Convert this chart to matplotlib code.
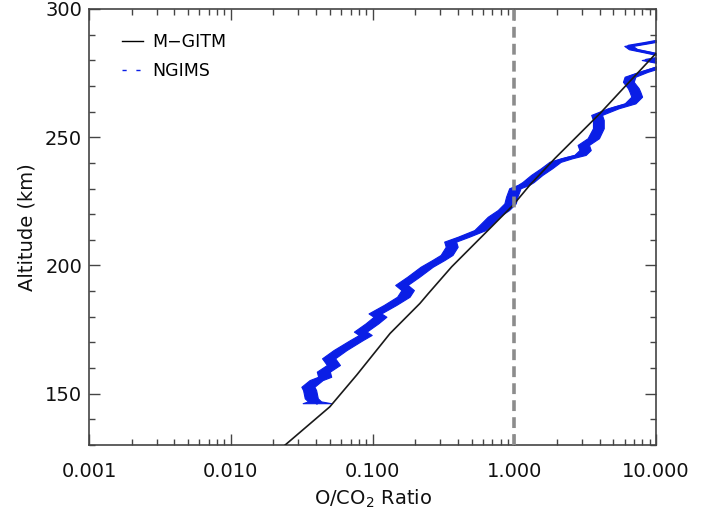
import matplotlib
matplotlib.use("Agg")
import matplotlib.pyplot as plt
import numpy as np
from matplotlib.lines import Line2D
from matplotlib.ticker import FixedLocator, FuncFormatter, LogLocator, MultipleLocator

plt.rcParams['font.family'] = ['DejaVu Sans']

# M-GITM model profile
mgitm_ratio = [0.0242, 0.050, 0.0774, 0.133, 0.216, 0.248, 0.362, 0.675, 0.984,
               1.29, 1.94, 4.03, 5.73, 10.0, 11.5]
mgitm_alt = [130, 144.9, 157.3, 173.5, 185.2, 189.1, 199.5, 214.5, 223.6,
             231.4, 241.8, 259.3, 268.4, 282.7, 285.5]

# NGIMS observed profile (center ratio, altitude, half-width of error in decades)
ngims_alt = [146.3, 147.0, 148.2, 151.4, 152.7, 155.3, 156.6, 158.6, 161.2, 163.8,
             167.0, 170.9, 172.9, 174.2, 177.4, 180.0, 181.3, 184.6, 187.8, 190.4,
             192.4, 195.6, 199.5, 202.1, 204.1, 207.3, 209.3, 211.2, 213.8, 216.4,
             219.0, 221.6, 224.2, 226.8, 230.1, 231.4, 232.5, 235.3, 237.9, 240.4,
             241.8, 243.1, 245.0, 247.0, 249.6, 253.5, 256.7, 258.7, 261.3, 263.2,
             265.8, 267.7, 269.1, 271.6, 273.6, 275.5, 276.5, 278.5, 280.1, 281.5,
             283.0, 284.3, 285.6, 286.6, 287.6, 289.0]
ngims_ratio = [0.0405, 0.039, 0.037, 0.036, 0.035, 0.040, 0.046, 0.045, 0.053, 0.049,
               0.059, 0.077, 0.089, 0.082, 0.099, 0.113, 0.104, 0.133, 0.165, 0.177,
               0.160, 0.194, 0.241, 0.291, 0.333, 0.362, 0.353, 0.438, 0.573, 0.64,
               0.713, 0.838, 0.934, 0.96, 1.01, 1.16, 1.25, 1.44, 1.69, 1.94,
               2.34, 2.91, 3.16, 3.07, 3.61, 3.92, 3.92, 3.81, 5.0, 6.56,
               7.31, 7.1, 6.92, 6.38, 6.56, 8.15, 9.33, 12.0, 8.5, 12.0,
               9.0, 6.9, 6.4, 8.2, 10.3, 13.0]
ngims_err = [0.100, 0.046, 0.046, 0.046, 0.046, 0.046, 0.046, 0.046, 0.046, 0.046,
             0.046, 0.045, 0.045, 0.045, 0.045, 0.045, 0.045, 0.044, 0.044, 0.044,
             0.044, 0.043, 0.043, 0.043, 0.042, 0.042, 0.042, 0.040, 0.040, 0.040,
             0.040, 0.040, 0.040, 0.040, 0.040, 0.040, 0.040, 0.040, 0.040, 0.040,
             0.040, 0.040, 0.040, 0.040, 0.040, 0.038, 0.038, 0.038, 0.038, 0.038,
             0.038, 0.038, 0.038, 0.038, 0.038, 0.030, 0.030, 0.030, 0.030, 0.030,
             0.030, 0.030, 0.030, 0.030, 0.030, 0.030]

x_ticks = [0.001, 0.01, 0.1, 1.0, 10.0]
y_ticks = [150, 200, 250, 300]

fig = plt.figure(figsize=(7.04, 5.12), dpi=100)
ax = fig.add_axes([89/704, 1 - 445/512, (656-89)/704, (445-9)/512])

blue = '#0a1ee6'
nr = np.array(ngims_ratio)
ne = np.array(ngims_err)
ax.fill_betweenx(ngims_alt, nr * 10**(-ne), nr * 10**(ne), color=blue, lw=0.8,
                 edgecolor=blue, zorder=2)
ax.plot(ngims_ratio, ngims_alt, color=blue, lw=1.8, zorder=2)
ax.plot(mgitm_ratio, mgitm_alt, color='#1a1a1a', lw=1.2, zorder=3)
ax.axvline(1.0, color='#8c8c8c', lw=2.6, dashes=(3.0, 1.7), zorder=4)

ax.set_xscale('log')
ax.set_xlim(0.001, 10.0)
ax.set_ylim(130, 300)
ax.xaxis.set_major_locator(FixedLocator(x_ticks))
ax.xaxis.set_minor_locator(LogLocator(base=10, subs=np.arange(2, 10)))
ax.xaxis.set_major_formatter(FuncFormatter(lambda v, p: f"{v:.3f}"))
ax.xaxis.set_minor_formatter(FuncFormatter(lambda v, p: ""))
ax.yaxis.set_major_locator(FixedLocator(y_ticks))
ax.yaxis.set_minor_locator(MultipleLocator(10))

spine_c = '#444444'
for s in ax.spines.values():
    s.set_color(spine_c)
    s.set_linewidth(1.2)
ax.tick_params(which='both', direction='in', top=True, right=True, colors=spine_c,
               labelcolor='#111111', labelsize=14)
ax.tick_params(which='major', length=8, width=1.0)
ax.tick_params(which='minor', length=4, width=1.0)
ax.tick_params(axis='x', which='major', pad=12)
ax.tick_params(axis='y', which='major', pad=5)

ax.set_xlabel('O/CO$_2$ Ratio', fontsize=14, labelpad=5, color='#111111')
ax.set_ylabel('Altitude (km)', fontsize=14, labelpad=6, color='#111111')

handles = [Line2D([], [], color='black', lw=1.0),
           Line2D([], [], color=blue, lw=1.0, dashes=(3, 7))]
ax.legend(handles, ['M\u2212GITM', 'NGIMS'], loc='upper left',
          bbox_to_anchor=(0.03, 0.98), frameon=False, fontsize=12.5,
          handlelength=1.25, handletextpad=0.5, labelspacing=0.6)

fig.savefig('out.png', dpi=100)
